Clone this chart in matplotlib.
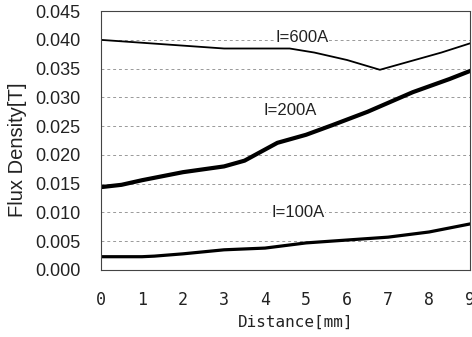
import matplotlib
matplotlib.use("Agg")
import matplotlib.pyplot as plt

plt.rcParams['font.family'] = ['Liberation Sans', 'DejaVu Sans']

x600 = [0, 1, 2, 3, 4, 4.6, 5.2, 6.0, 6.8, 7.5, 8.3, 9]
y600 = [0.0400, 0.0395, 0.0390, 0.0385, 0.0385, 0.0385, 0.0378, 0.0365, 0.0348, 0.0362, 0.0378, 0.0394]

x200 = [0, 0.5, 1, 2, 3, 3.5, 4.3, 5, 5.65, 6.5, 7.6, 8.5, 9]
y200 = [0.0144, 0.0148, 0.0156, 0.0170, 0.0180, 0.0190, 0.0221, 0.0235, 0.0252, 0.0275, 0.0309, 0.0332, 0.0346]

x100 = [0, 1, 1.3, 2, 3, 4, 5, 6, 7, 8, 9]
y100 = [0.0023, 0.0023, 0.0024, 0.0028, 0.0035, 0.0038, 0.0047, 0.0052, 0.0057, 0.0066, 0.0080]

labels = ["I=600A", "I=200A", "I=100A"]
label_pos = [(4.25, 0.0405), (3.95, 0.0278), (4.15, 0.0099)]

xticks = list(range(0, 10))
yticks = [0.000, 0.005, 0.010, 0.015, 0.020, 0.025, 0.030, 0.035, 0.040, 0.045]

fig = plt.figure(figsize=(4.72, 3.37), dpi=100)
ax = fig.add_axes([0.214, 0.199, 0.782, 0.768])

ax.plot(x600, y600, color='black', lw=1.3)
ax.plot(x200, y200, color='black', lw=3.0)
ax.plot(x100, y100, color='black', lw=2.3)

for t, (px, py) in zip(labels, label_pos):
    ax.text(px, py, t, fontsize=12, va='center', ha='left', color='#222222',
            bbox=dict(facecolor='white', edgecolor='none', pad=0.5))

ax.set_xlim(0, 9)
ax.set_ylim(0, 0.045)
ax.set_xticks(xticks)
ax.set_yticks(yticks)
ax.set_yticklabels([f"{v:.3f}" for v in yticks], fontsize=13, color='#222222')
ax.set_xticklabels([str(v) for v in xticks], fontsize=12, color='#222222',
                   family=['DejaVu Sans Mono'])
ax.tick_params(length=0)
ax.tick_params(axis='y', pad=15)
ax.tick_params(axis='x', pad=15)
ax.yaxis.grid(True, linestyle=(0, (3, 3)), color='#999999', lw=0.7)
for s in ax.spines.values():
    s.set_linestyle((0, (1, 1)))
    s.set_linewidth(0.8)
    s.set_color('#444444')
ax.set_ylabel("Flux Density[T]", fontsize=14.5, color='#222222')
ax.yaxis.set_label_coords(-0.20, 0.463)
ax.set_xlabel("Distance[mm]", fontsize=11.5, color='#222222',
              family=['DejaVu Sans Mono'])
ax.xaxis.set_label_coords(0.528, -0.175)

fig.savefig("out.png", dpi=100)
